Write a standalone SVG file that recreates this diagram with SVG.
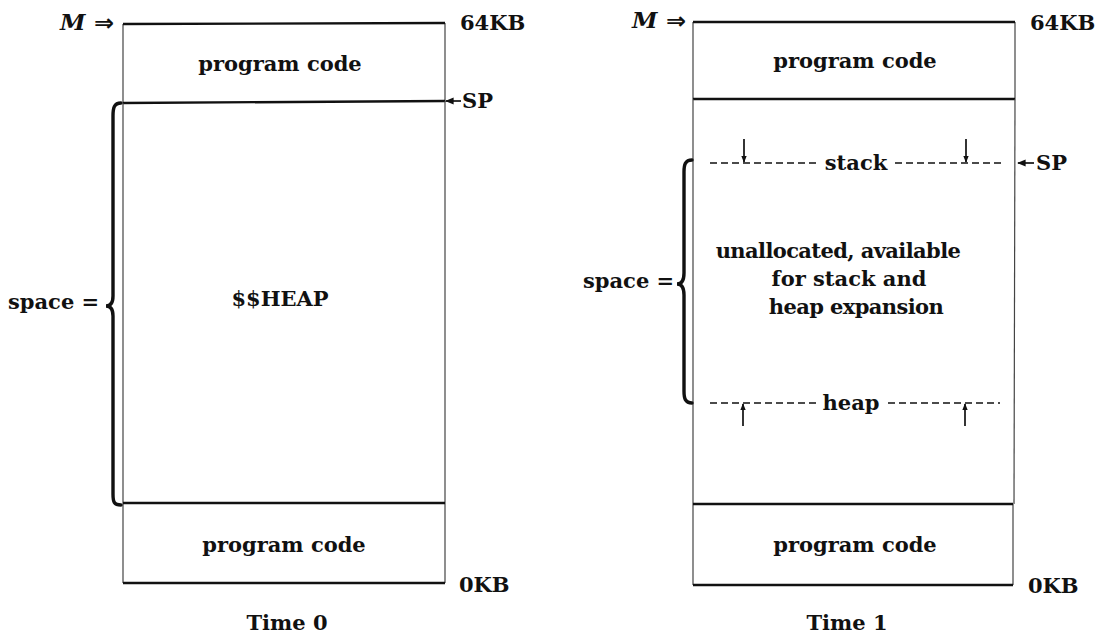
<svg xmlns="http://www.w3.org/2000/svg" width="1103" height="637" viewBox="0 0 1103 637">
  <defs>
    <marker id="head" viewBox="0 0 10 10" refX="9" refY="5" markerWidth="5" markerHeight="5" orient="auto">
      <path d="M0,1 L10,5 L0,9 z" fill="#111"/>
    </marker>
    <marker id="tip" viewBox="0 0 10 10" refX="9" refY="5" markerWidth="4" markerHeight="4" orient="auto">
      <path d="M0,1 L10,5 L0,9 z" fill="#111"/>
    </marker>
  </defs>
  <style>
    text { font-family: "DejaVu Serif", "Liberation Serif", serif; font-weight: bold; fill: #111; }
    .lbl { font-size: 21px; text-anchor: middle; }
    .tight { letter-spacing: -0.6px; }
    .mark { font-size: 21px; }
    .m { font-style: italic; font-size: 23px; }
    .dbl { font-family: "DejaVu Sans", sans-serif; font-size: 24px; }
    .side { stroke: #444; stroke-width: 1.2; }
    .edge { stroke: #111; stroke-width: 2.4; }
    .brace { fill: none; stroke: #111; stroke-width: 3.4; stroke-linecap: round; }
    .dash { stroke: #111; stroke-width: 1.7; stroke-dasharray: 7 4; }
    .arrow { stroke: #111; stroke-width: 1.7; fill: none; }
  </style>
  <rect width="1103" height="637" fill="#fff"/>

  <!-- ===== Time 0 ===== -->
  <g id="t0-code-high">
    <line class="side" x1="123" y1="24" x2="123" y2="103"/>
    <line class="side" x1="445" y1="23" x2="445" y2="102"/>
    <line class="edge" x1="123" y1="24" x2="445" y2="23"/>
    <line class="edge" x1="123" y1="103" x2="445" y2="101"/>
    <text class="lbl" x="280" y="71">program code</text>
  </g>
  <g id="t0-heap">
    <line class="side" x1="123" y1="103" x2="123" y2="503"/>
    <line class="side" x1="445" y1="101" x2="445" y2="503"/>
    <text class="lbl" x="280" y="306">$$HEAP</text>
  </g>
  <g id="t0-code-low">
    <line class="side" x1="123" y1="503" x2="123" y2="583"/>
    <line class="side" x1="445" y1="503" x2="445" y2="583"/>
    <line class="edge" x1="123" y1="503" x2="445" y2="503"/>
    <line class="edge" x1="123" y1="583" x2="445" y2="583"/>
    <text class="lbl" x="284" y="552">program code</text>
  </g>
  <g id="t0-space">
    <path class="brace" d="M121,103 C114,103 113,108 113,116 L113,296 C113,302 111,306 106,306 C111,306 113,310 113,316 L113,494 C113,502 114,505 121,505"/>
    <text class="mark" x="8" y="309">space =</text>
  </g>
  <g id="t0-labels">
    <text class="m" x="60" y="30">M</text>
    <text class="mark" x="460" y="30">64KB</text>
    <text class="mark" x="462" y="108">SP</text>
    <text class="mark" x="459" y="592">0KB</text>
    <text class="lbl" x="287" y="630">Time 0</text>
  </g>

  <!-- ===== Time 1 ===== -->
  <g id="t1-code-high">
    <line class="side" x1="693" y1="22" x2="693" y2="99"/>
    <line class="side" x1="1015" y1="22" x2="1015" y2="99"/>
    <line class="edge" x1="693" y1="22" x2="1015" y2="22"/>
    <line class="edge" x1="693" y1="99" x2="1015" y2="99"/>
    <text class="lbl" x="855" y="68">program code</text>
  </g>
  <g id="t1-free">
    <line class="side" x1="693" y1="99" x2="693" y2="504"/>
    <line class="side" x1="1015" y1="99" x2="1014" y2="504"/>
    <text class="lbl tight" x="838" y="258">unallocated, available</text>
    <text class="lbl" x="849" y="286">for stack and</text>
    <text class="lbl tight" x="856" y="314">heap expansion</text>
  </g>
  <g id="t1-stack">
    <line class="dash" x1="710" y1="163" x2="818" y2="163"/>
    <line class="dash" x1="895" y1="163" x2="1004" y2="163"/>
    <text class="lbl" x="856" y="170">stack</text>
  </g>
  <g id="t1-heap">
    <line class="dash" x1="710" y1="403" x2="816" y2="403"/>
    <line class="dash" x1="888" y1="403" x2="1000" y2="403"/>
    <text class="lbl" x="851" y="410">heap</text>
  </g>
  <g id="t1-code-low">
    <line class="side" x1="693" y1="504" x2="693" y2="585"/>
    <line class="side" x1="1013" y1="504" x2="1013" y2="585"/>
    <line class="edge" x1="693" y1="504" x2="1013" y2="504"/>
    <line class="edge" x1="693" y1="585" x2="1013" y2="585"/>
    <text class="lbl" x="855" y="552">program code</text>
  </g>
  <g id="t1-space">
    <path class="brace" d="M692,160 C685,160 684,165 684,172 L684,273 C684,279 682,284 677,284 C682,284 684,289 684,295 L684,391 C684,398 685,403 692,403"/>
    <text class="mark" x="583" y="288">space =</text>
  </g>
  <g id="t1-labels">
    <text class="m" x="632" y="28">M</text>
    <text class="mark" x="1030" y="30">64KB</text>
    <text class="mark" x="1036" y="170">SP</text>
    <text class="mark" x="1028" y="593">0KB</text>
    <text class="lbl" x="847" y="630">Time 1</text>
  </g>

  <!-- pointers and growth arrows -->
  <g id="connectors">
    <text class="dbl" x="94" y="31">⇒</text>
    <text class="dbl" x="666" y="29">⇒</text>
    <line class="arrow" x1="461" y1="101" x2="446" y2="101" marker-end="url(#head)"/>
    <line class="arrow" x1="1034" y1="163" x2="1018" y2="163" marker-end="url(#head)"/>
    <line class="arrow" x1="744" y1="139" x2="744" y2="162" marker-end="url(#tip)"/>
    <line class="arrow" x1="966" y1="139" x2="966" y2="162" marker-end="url(#tip)"/>
    <line class="arrow" x1="743" y1="426" x2="743" y2="404" marker-end="url(#tip)"/>
    <line class="arrow" x1="965" y1="426" x2="965" y2="404" marker-end="url(#tip)"/>
  </g>
</svg>
